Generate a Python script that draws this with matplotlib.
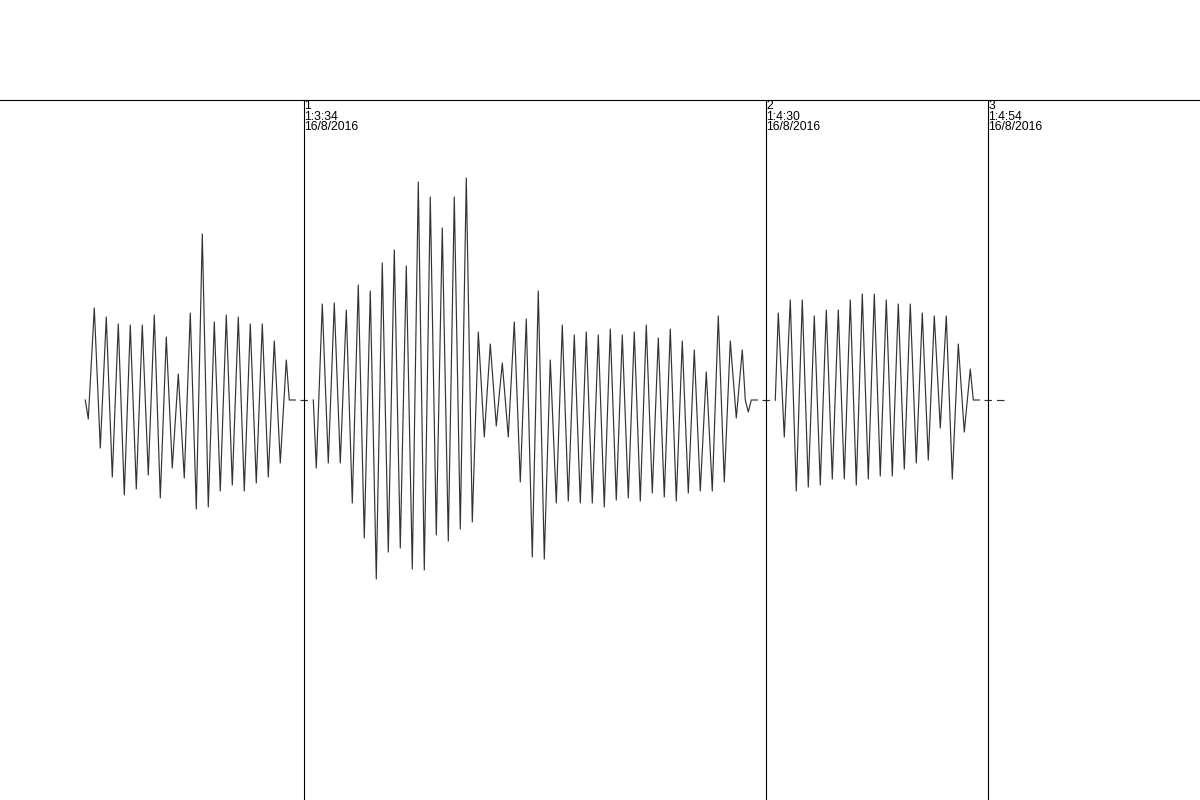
import matplotlib.pyplot as plt

plt.rcParams['font.family'] = ['Liberation Sans', 'DejaVu Sans']
plt.rcParams['lines.scale_dashes'] = False

# sample index (1 sample = 3 px) and amplitude for each recorded strip
strip1_t = [0, 1, 3, 5, 7, 9, 11, 13, 15, 17, 19, 21, 23, 25, 27, 29, 31, 33, 35,
            37, 39, 41, 43, 45, 47, 49, 51, 53, 55, 57, 59, 61, 63, 65, 67, 68, 70]
strip1_v = [0, -19, 92, -48, 83, -77, 76, -95, 75, -89, 75, -75, 85, -98, 63, -68,
            26, -78, 87, -109, 166, -107, 78, -91, 85, -85, 83, -91, 76, -83, 76,
            -77, 59, -63, 40, 0, 0]

strip2_t = [76, 77, 79, 81, 83, 85, 87, 89, 91, 93, 95, 97, 99, 101, 103, 105, 107,
            109, 111, 113, 115, 117, 119, 121, 123, 125, 127, 129, 131, 133, 135,
            137, 139, 141, 143, 145, 147, 149, 151, 153, 155, 157, 159, 161, 163,
            165, 167, 169, 171, 173, 175, 177, 179, 181, 183, 185, 187, 189, 191,
            193, 195, 197, 199, 201, 203, 205, 207, 209, 211, 213, 215, 217, 219,
            220, 221, 222, 224]
strip2_v = [0, -68, 96, -63, 97, -63, 90, -103, 115, -138, 109, -179, 137, -152,
            150, -148, 134, -169, 218, -170, 203, -135, 172, -141, 203, -129, 222,
            -122, 68, -37, 56, -26, 37, -37, 78, -82, 81, -157, 109, -159, 40, -103,
            75, -101, 65, -103, 68, -103, 65, -107, 71, -100, 65, -98, 68, -101, 75,
            -93, 62, -97, 71, -101, 59, -93, 50, -91, 28, -91, 84, -82, 59, -18, 50,
            0, -12, 0, 0]

strip3_t = [230, 231, 233, 235, 237, 239, 241, 243, 245, 247, 249, 251, 253, 255,
            257, 259, 261, 263, 265, 267, 269, 271, 273, 275, 277, 279, 281, 283,
            285, 287, 289, 291, 293, 295, 296, 298]
strip3_v = [0, 87, -37, 100, -91, 100, -87, 84, -85, 90, -79, 90, -79, 100, -85,
            106, -79, 106, -76, 100, -76, 96, -69, 96, -63, 87, -60, 84, -28, 84,
            -79, 56, -32, 31, 0, 0]

# event markers
marker_t = [72.9, 226.9, 300.9]
marker_num = ['1', '2', '3']
marker_time = ['1:3:34', '1:4:30', '1:4:54']
marker_date = ['16/8/2016', '16/8/2016', '16/8/2016']

# dashed baseline between strips
gap_start = [70, 224, 298]
gap_end = [76, 230, 306.5]

fig = plt.figure(figsize=(12, 8), dpi=100)
ax = fig.add_axes([0, 0, 1, 1])

for t, v in [(strip1_t, strip1_v), (strip2_t, strip2_v), (strip3_t, strip3_v)]:
    ax.plot(t, v, color='#333333', lw=0.85)

for a, b in zip(gap_start, gap_end):
    ax.plot([a, b], [0, 0], color='#333333', lw=0.85, linestyle=(5.4, (5.4, 3.6)))

ax.axhline(300, color='black', lw=0.8)
ax.vlines(marker_t, -400, 300, color='black', lw=0.8)

for t, n, tm, d in zip(marker_t, marker_num, marker_time, marker_date):
    ax.text(t + 0.05, 300, n + '\n' + tm + '\n' + d, fontsize=8.8, va='top', ha='left',
            linespacing=0.84, color='black')

ax.set_xlim(-28.43, 371.57)
ax.set_ylim(-400, 400)
ax.axis('off')

fig.savefig('out.png', dpi=100)
